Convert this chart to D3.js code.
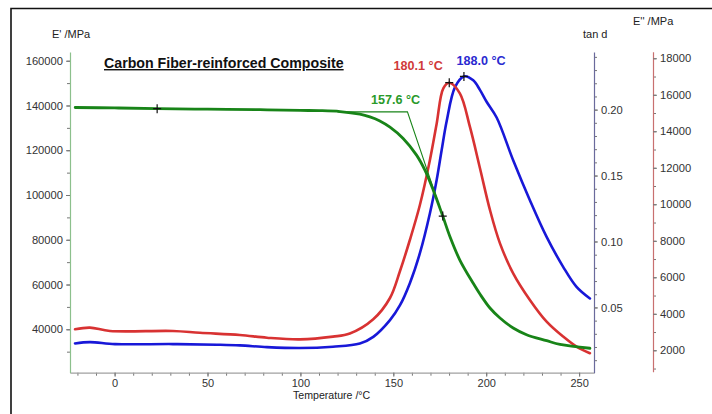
<!DOCTYPE html>
<html><head><meta charset="utf-8">
<script src="https://cdn.jsdelivr.net/npm/d3@7"></script>
<style>
body{margin:0;background:#fff}
svg{display:block}
text{font-family:"Liberation Sans",Arial,sans-serif}
</style>
</head><body>
<svg id="chart" width="712" height="414"></svg>
<script>
// ---------------- data ----------------
const chartTitle = "Carbon Fiber-reinforced Composite";
const xLabel = "Temperature /°C";
const leftLabel = "E' /MPa";
const tandLabel = "tan d";
const lossLabel = "E'' /MPa";

const storageTemp = [-21.2, 0, 22.8, 50, 78.2, 100, 110, 121.3, 132, 137.4, 142.5, 148.2, 155.3, 162.5, 167.0, 171.5, 176.6, 180.5, 185.8, 193.0, 196.6, 202.0, 207.4, 214.5, 221.7, 232.5, 239.7, 255.8];
const storageModulus = [139100, 138900, 138570, 138350, 138120, 137800, 137700, 137300, 136100, 134900, 133200, 130300, 125260, 117810, 111110, 102180, 90580, 81340, 70940, 60530, 55760, 49510, 45040, 40580, 37590, 34910, 33210, 31520];

const lossTemp = [-21.3, -13.3, -2.5, 31.4, 45.9, 67.4, 82, 99.7, 117.5, 126.6, 139.2, 148.2, 153.6, 158.9, 164.3, 169.7, 173.3, 176.9, 180.1, 185.8, 191.2, 196.6, 202, 207.4, 214.5, 223.5, 232.5, 241.4, 248.6, 255.8];
const lossModulus = [3150, 3240, 3060, 3060, 2960, 2840, 2690, 2600, 2750, 2920, 3700, 4865, 6345, 8043, 9961, 12427, 14400, 16355, 16662, 16080, 14250, 11990, 9690, 7860, 6220, 4760, 3570, 2750, 2200, 1840];

const tandTemp = [-21.3, -13.3, 0.2, 31.4, 55.1, 67.4, 82, 99.7, 117.5, 132, 139.2, 148.2, 153.6, 158.9, 164.3, 169.7, 173.3, 176.0, 178.7, 183.2, 188.0, 193, 196.6, 200.2, 205.6, 214.5, 223.5, 232.5, 241.4, 248.6, 255.8];
const tandValue = [0.0227, 0.0237, 0.0222, 0.0222, 0.0217, 0.0212, 0.0199, 0.0192, 0.0202, 0.0226, 0.0277, 0.0404, 0.0517, 0.0684, 0.0911, 0.1214, 0.1464, 0.1692, 0.1912, 0.2171, 0.2252, 0.2222, 0.2150, 0.2060, 0.1940, 0.1616, 0.1313, 0.1035, 0.0808, 0.0656, 0.0568];

// onset construction on E' (temperature, E')
const onsetTemp = [120, 157.6, 176.6];
const onsetModulus = [137140, 137140, 90580];
const onsetText = "157.6 °C";
const storageMarkerTemp = [22.9, 176.6];
const storageMarkerValue = [138570, 90580];
const lossPeak = {temp: 180.1, value: 16662, text: "180.1 °C"};
const tandPeak = {temp: 188.0, value: 0.2252, text: "188.0 °C"};

const xMajor = [0, 50, 100, 150, 200, 250];
const xMinor = d3.range(-20, 251, 10);
const leftMajor = [40000, 60000, 80000, 100000, 120000, 140000, 160000];
const leftMinor = d3.range(30000, 160001, 10000);
const tandMajor = [0.05, 0.10, 0.15, 0.20];
const tandMinor = d3.range(1, 25).map(d => d / 100);
const lossMajor = [2000, 4000, 6000, 8000, 10000, 12000, 14000, 16000, 18000];
const lossMinor = d3.range(1000, 18001, 1000);

// ---------------- drawing ----------------
const svg = d3.select("#chart");
const colGreen = "#188418", colRed = "#d83232", colBlue = "#1818d8";

// frame (top and left edges)
svg.append("path").attr("d", "M11,414V8.5H712").attr("fill", "none").attr("stroke", "#111").attr("stroke-width", 1.6);

const x = d3.scaleLinear().domain([-24, 258]).range([70, 594]);
const yL = d3.scaleLinear().domain([20600, 163900]).range([372.7, 52]);
const yT = d3.scaleLinear().domain([0.0005, 0.2437]).range([372.7, 52]);
const yR = d3.scaleLinear().domain([827, 18360]).range([371.7, 51.7]);

function styleAxis(g, lineColor) {
  g.select(".domain").attr("stroke", lineColor).attr("stroke-width", 1.2);
  g.selectAll(".tick line").attr("stroke", "#777");
  g.selectAll(".tick text").attr("fill", "#333").style("font-size", "11.2px").style("font-family", '"Liberation Sans",Arial,sans-serif');
}
function minorAxis(axis, tr) {
  const g = svg.append("g").attr("transform", tr).call(axis.tickFormat("").tickSize(3).tickSizeOuter(0));
  g.select(".domain").remove();
  g.selectAll(".tick line").attr("stroke", "#777");
}

// x axis
minorAxis(d3.axisBottom(x).tickValues(xMinor), "translate(0,372.7)");
const gx = svg.append("g").attr("transform", "translate(0,372.7)")
  .call(d3.axisBottom(x).tickValues(xMajor).tickFormat(d3.format("d")).tickSize(4).tickPadding(3).tickSizeOuter(0));
styleAxis(gx, "#a0a0a0");
gx.selectAll(".tick text").style("font-size", "11px").attr("dy", "0.68em");

// left axis E'
minorAxis(d3.axisLeft(yL).tickValues(leftMinor), "translate(70,0)");
const gl = svg.append("g").attr("transform", "translate(70,0)")
  .call(d3.axisLeft(yL).tickValues(leftMajor).tickFormat(d3.format("d")).tickSize(4).tickPadding(3).tickSizeOuter(0));
styleAxis(gl, "#8cc08c");

// tan d axis
minorAxis(d3.axisRight(yT).tickValues(tandMinor), "translate(594,0)");
const gt = svg.append("g").attr("transform", "translate(594,0)")
  .call(d3.axisRight(yT).tickValues(tandMajor).tickFormat(d3.format(".2f")).tickSize(4).tickPadding(3).tickSizeOuter(0));
styleAxis(gt, "#6a6a9c");

// E'' axis
minorAxis(d3.axisRight(yR).tickValues(lossMinor), "translate(653,0)");
const gr = svg.append("g").attr("transform", "translate(653,0)")
  .call(d3.axisRight(yR).tickValues(lossMajor).tickFormat(d3.format("d")).tickSize(4).tickPadding(3).tickSizeOuter(0));
styleAxis(gr, "#c87070");

// axis titles
const lbl = (t, px, py) => svg.append("text").attr("x", px).attr("y", py).attr("fill", "#222").style("font-size", "11px").text(t);
lbl(leftLabel, 52, 37.5);
lbl(tandLabel, 583, 37.5);
lbl(lossLabel, 633, 25);
lbl(xLabel, 293, 398.5).style("font-size", "10.6px");

// chart title
svg.append("text").attr("x", 104).attr("y", 68).attr("fill", "#111")
  .style("font-size", "14.2px").style("font-weight", "bold")
  .attr("text-decoration", "underline").text(chartTitle);

// curves
const curve = d3.curveCatmullRom.alpha(0.5);
function series(temps, vals, ys, color, w) {
  const pts = temps.map((t, i) => [x(t), ys(vals[i])]);
  svg.append("path").attr("d", d3.line().curve(curve)(pts))
    .attr("fill", "none").attr("stroke", color).attr("stroke-width", w)
    .attr("stroke-linejoin", "round").attr("stroke-linecap", "round");
}
series(tandTemp, tandValue, yT, colBlue, 2.6);
series(lossTemp, lossModulus, yR, colRed, 2.6);
series(storageTemp, storageModulus, yL, colGreen, 2.8);

// onset construction line
svg.append("path")
  .attr("d", d3.line()(onsetTemp.map((t, i) => [x(t), yL(onsetModulus[i])])))
  .attr("fill", "none").attr("stroke", colGreen).attr("stroke-width", 1.1);

// markers
function cross(px, py) {
  svg.append("path").attr("d", `M${px - 4},${py}H${px + 4}M${px},${py - 4.5}V${py + 4.5}`)
    .attr("stroke", "#111").attr("stroke-width", 1.2);
}
storageMarkerTemp.forEach((t, i) => cross(x(t), yL(storageMarkerValue[i])));
cross(x(lossPeak.temp), yR(lossPeak.value));
cross(x(tandPeak.temp), yT(tandPeak.value));

// annotation labels
const ann = (t, px, py, c, anchor) => svg.append("text").attr("x", px).attr("y", py)
  .attr("fill", c).attr("text-anchor", anchor)
  .style("font-size", "12.6px").style("font-weight", "bold").text(t);
ann(lossPeak.text, x(lossPeak.temp) - 6.5, yR(lossPeak.value) - 12.5, "#d03a3a", "end");
ann(tandPeak.text, x(tandPeak.temp) - 7.5, yT(tandPeak.value) - 11, "#2a2ad0", "start");
ann(onsetText, x(onsetTemp[1]) - 36.5, yL(onsetModulus[1]) - 7.7, "#2a9a2a", "start");
</script>
</body></html>
